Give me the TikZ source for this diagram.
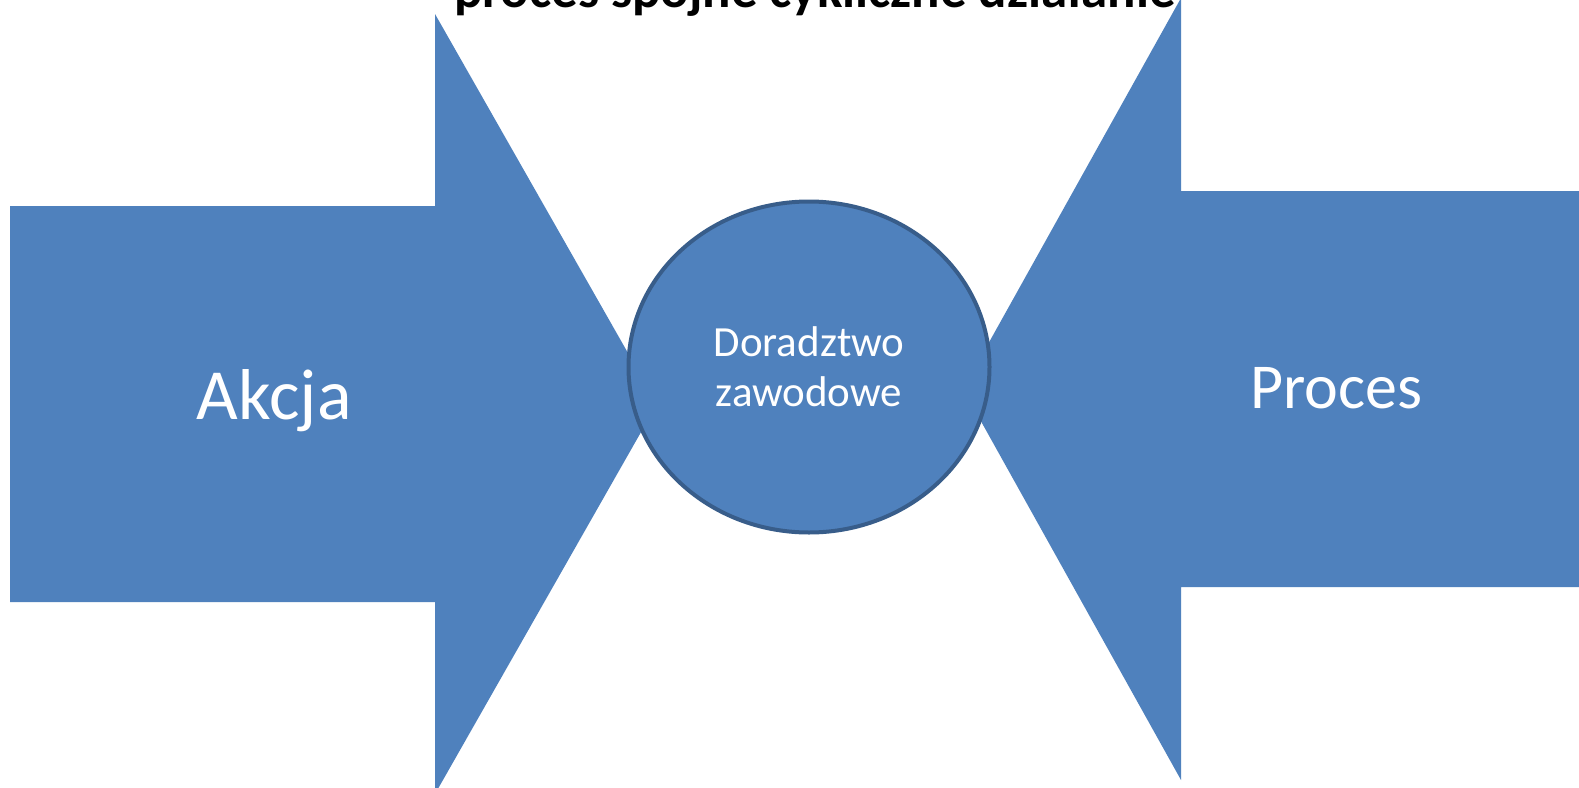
\documentclass[tikz,border=0pt]{standalone}
\usepackage{fontspec}
\setmainfont{Carlito}
\definecolor{fillblue}{HTML}{4F81BD}
\definecolor{edgeblue}{HTML}{385D8A}
\tikzset{
  bigarrow/.style={fill=fillblue, draw=none},
  hub/.style={ellipse, fill=fillblue, draw=edgeblue, line width=4pt, minimum width=361pt, minimum height=331pt, inner sep=0pt, text=white, align=center, font=\fontsize{43}{50}\selectfont},
  bigword/.style={text=white, inner sep=0pt},
  title/.style={text=black, font=\fontsize{53}{60}\selectfont\bfseries, inner sep=0pt, anchor=base}
}
\usetikzlibrary{shapes.geometric}
\begin{document}
\begin{tikzpicture}[x=1pt,y=-1pt]
\useasboundingbox (0,0) rectangle (1579,787);
\clip (0,0) rectangle (1579,787);
\fill[white] (0,0) rectangle (1579,787);
% left arrow
\fill[bigarrow] (10,206) -- (435,206) -- (435,14) -- (657,404) -- (435,794) -- (435,602) -- (10,602) -- cycle;
% right arrow
\fill[bigarrow] (1579,191) -- (1181,191) -- (1181,-2) -- (963,389) -- (1181,780) -- (1181,587) -- (1579,587) -- cycle;
\node[title] (t) at (815,8) {proces spójne cykliczne działanie};
\node[hub] (c) at (809,367) {Doradztwo\\zawodowe};
\node[bigword, font=\fontsize{72}{80}\selectfont] (a) at (274,401) {Akcja};
\node[bigword, font=\fontsize{64}{72}\selectfont] (p) at (1336,388) {Proces};
\end{tikzpicture}
\end{document}
